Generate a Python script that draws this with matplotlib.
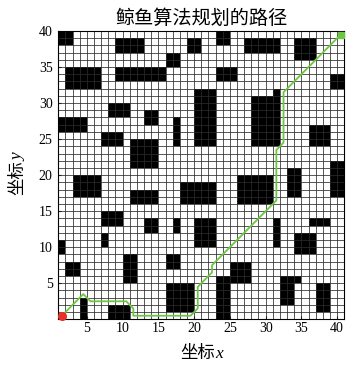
import matplotlib
matplotlib.use("Agg")
import matplotlib.pyplot as plt
from matplotlib.patches import Rectangle
import numpy as np

plt.rcParams["font.family"] = ["Liberation Serif", "Noto Sans CJK SC"]

# grid map 40 x 40, obstacle blocks: lower-left corner and size (cells)
obs_x = [1, 9, 19, 16, 2, 9, 20, 8, 13, 1, 17, 7, 11, 23, 27, 34, 23, 39, 28, 31,
         36, 39, 33, 3, 11, 18, 7, 13, 17, 20, 7, 1, 2, 10, 16, 4, 8, 16, 26, 31,
         36, 34, 25, 23, 32, 32, 37]
obs_y = [38, 37, 37, 35, 32, 33, 24, 28, 27, 26, 24, 24, 21, 38, 37, 36, 33, 32, 24, 31,
         24, 17, 17, 17, 16, 16, 13, 12, 12, 10, 10, 9, 6, 5, 7, 0, 0, 1, 16, 10,
         13, 9, 5, 0, 5, 2, 1]
obs_w = [2, 4, 2, 2, 5, 7, 3, 3, 2, 4, 1, 3, 4, 2, 5, 3, 3, 2, 4, 1,
         3, 2, 2, 4, 4, 5, 3, 2, 1, 3, 1, 1, 2, 2, 2, 1, 3, 4, 5, 1,
         3, 3, 3, 2, 3, 2, 2]
obs_h = [2, 2, 2, 2, 3, 2, 8, 2, 2, 2, 4, 2, 4, 2, 2, 3, 2, 2, 7, 1,
         3, 5, 4, 3, 2, 3, 2, 2, 2, 4, 2, 2, 2, 4, 2, 3, 2, 4, 4, 4,
         1, 3, 3, 6, 1, 3, 4]

# planned path (cell centres)
path_x = [1.5, 4.5, 5.5, 10.5, 11.5, 11.5, 19.5, 20.5, 20.5, 22.5, 22.5, 31.5, 31.5, 32.5, 32.5, 40.5]
path_y = [0.5, 3.5, 2.5, 2.5, 1.5, 0.5, 0.5, 1.5, 4.5, 6.5, 7.5, 16.5, 23.5, 24.5, 31.5, 39.5]

ticks = [5, 10, 15, 20, 25, 30, 35, 40]

fig = plt.figure(figsize=(3.49, 3.68), dpi=100)
ax = fig.add_axes([0.167, 0.1323, 0.8195, 0.7835])

for x0, y0, w, h in zip(obs_x, obs_y, obs_w, obs_h):
    ax.add_patch(Rectangle((x0, y0), w, h, facecolor="black", edgecolor="none", zorder=1))

ax.vlines(np.arange(1, 42), 0, 40, colors="#2a2a2a", linewidth=0.55, zorder=2)
ax.hlines(np.arange(0, 41), 1, 41, colors="#2a2a2a", linewidth=0.55, zorder=2)

ax.plot(path_x, path_y, color="#6cc644", linewidth=1.3, zorder=3)
ax.plot(path_x[0], path_y[0], "o", color="#e8302a", markersize=5.5, zorder=4, clip_on=False)
ax.plot(path_x[-1], path_y[-1], "s", color="#6cc644", markersize=5, zorder=4, clip_on=False)

ax.set_xlim(1, 41)
ax.set_ylim(0, 40)
ax.set_xticks(ticks)
ax.set_yticks(ticks)
ax.tick_params(direction="in", length=2, labelsize=10, pad=2)
ax.tick_params(axis="y", pad=4)

ax.set_title("鲸鱼算法规划的路径", fontsize=13.8, pad=5)

# axis labels: CJK part plus italic letter
ax.text(0.55, -0.134, "坐标", transform=ax.transAxes, fontsize=12.5,
        ha="right", va="baseline")
ax.text(0.55, -0.134, "x", transform=ax.transAxes, fontsize=12.5,
        ha="left", va="baseline", style="italic", family="Liberation Serif")
ax.text(-0.127, 0.55, "坐标", transform=ax.transAxes, fontsize=12.5, rotation=90,
        rotation_mode="anchor", ha="right", va="baseline")
ax.text(-0.127, 0.55, "y", transform=ax.transAxes, fontsize=12.5, rotation=90,
        rotation_mode="anchor", ha="left", va="baseline", style="italic",
        family="Liberation Serif")

fig.savefig("out.png", dpi=100)
